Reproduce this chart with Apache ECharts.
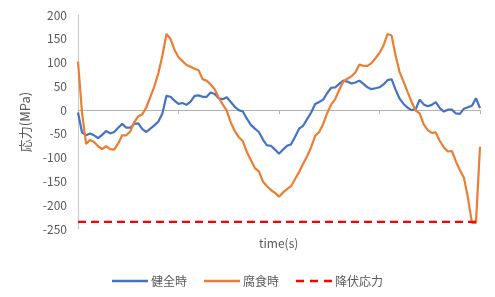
<!DOCTYPE html>
<html><head><meta charset="utf-8">
<script src="https://cdn.jsdelivr.net/npm/echarts@6/dist/echarts.min.js"></script>
<style>html,body{margin:0;padding:0;background:#fff}#c{width:495px;height:297px}</style>
</head><body><div id="c"></div>
<script>
const seriesNames = ['健全時', '腐食時', '降伏応力'];
const yTicks = [-250, -200, -150, -100, -50, 0, 50, 100, 150, 200];
const healthy = [
  -5, -47, -53, -49, -53, -59, -52, -44, -49, -46,
  -37, -29, -37, -37, -29, -28, -40, -46, -39, -32,
  -24, -7, 30, 28, 20, 13, 15, 11, 18, 30,
  31, 28, 28, 37, 34, 25, 23, 27, 17, 7,
  0, -3, -18, -31, -39, -46, -62, -74, -75, -83,
  -92, -83, -75, -72, -56, -39, -33, -19, -5, 13,
  17, 22, 36, 47, 48, 55, 62, 60, 56, 58,
  62, 55, 48, 44, 46, 48, 54, 63, 65, 43,
  24, 13, 5, 0, 2, 22, 12, 8, 11, 17,
  4, -3, 1, 1, -7, -8, 3, 6, 9, 25,
  4
];
const corroded = [
  102, -5, -71, -63, -67, -76, -82, -76, -82, -83,
  -70, -53, -53, -45, -25, -13, -9, 6, 28, 50,
  78, 115, 160, 150, 127, 111, 103, 95, 91, 87,
  84, 65, 62, 54, 44, 26, 12, -1, -26, -44,
  -57, -65, -88, -105, -122, -129, -150, -160, -168, -174,
  -182, -173, -166, -160, -145, -130, -113, -97, -78, -54,
  -46, -29, -6, 12, 23, 43, 60, 66, 71, 79,
  96, 93, 93, 99, 109, 120, 136, 160, 157, 115,
  80, 60, 38, 17, -1, -7, -30, -42, -48, -47,
  -65, -78, -87, -86, -108, -126, -142, -184, -237, -237,
  -77
];
const yieldStress = -235;
const categories = healthy.map((_, i) => String(i));
const yieldLine = categories.map(() => yieldStress);

const font = '"Noto Sans CJK JP", "Noto Sans", sans-serif';
const solidIcon = 'path://M0,0H36V2.4H0Z';
const dashIcon = 'path://M0,0H8V2.4H0Z M14,0H22V2.4H14Z M28,0H36V2.4H28Z';
const chart = echarts.init(document.getElementById('c'), null, {renderer: 'canvas'});
chart.setOption({
  animation: false,
  textStyle: {fontFamily: font},
  title: {text: 'time(s)', left: 254, top: 232, textStyle: {fontSize: 12, fontWeight: 'normal', color: '#595959', fontFamily: font}},
  grid: {left: 78, right: 15, top: 15, bottom: 68, containLabel: false},
  legend: {
    data: [
      {name: seriesNames[0], icon: solidIcon, itemStyle: {color: '#4472C4'}},
      {name: seriesNames[1], icon: solidIcon, itemStyle: {color: '#ED7D31'}},
      {name: seriesNames[2], icon: dashIcon, itemStyle: {color: '#FF0000'}}
    ],
    left: 'center', top: 270, itemWidth: 36, itemHeight: 2.4, itemGap: 17,
    textStyle: {fontSize: 12, color: '#595959', fontFamily: font, padding: [0, 0, 0, -2]}
  },
  xAxis: {
    type: 'category', data: categories, boundaryGap: false,
    axisLine: {show: true, onZero: true, lineStyle: {color: '#b3b3b3', width: 1}},
    axisTick: {show: true, interval: 24, length: 4, lineStyle: {color: '#b3b3b3'}},
    axisLabel: {show: false}, splitLine: {show: false}
  },
  yAxis: {
    type: 'value', min: yTicks[0], max: yTicks[yTicks.length - 1], interval: 50,
    name: '応力(MPa)', nameLocation: 'middle', nameGap: 44, nameRotate: 90,
    nameTextStyle: {fontSize: 13, color: '#595959', fontFamily: font},
    axisLine: {show: true, lineStyle: {color: '#c8c8c8', width: 1}},
    axisTick: {show: false},
    axisLabel: {fontSize: 12, color: '#595959', margin: 11, fontFamily: font},
    splitLine: {show: false}
  },
  series: [
    {name: seriesNames[0], type: 'line', data: healthy, symbol: 'none', smooth: false,
     lineStyle: {color: '#4472C4', width: 2.2}, itemStyle: {color: '#4472C4'}},
    {name: seriesNames[1], type: 'line', data: corroded, symbol: 'none', smooth: false,
     lineStyle: {color: '#ED7D31', width: 2.2}, itemStyle: {color: '#ED7D31'}},
    {name: seriesNames[2], type: 'line', data: yieldLine, symbol: 'none',
     lineStyle: {color: '#FF0000', width: 2.4, type: [8, 5]}, itemStyle: {color: '#FF0000'}}
  ]
});
</script></body></html>
